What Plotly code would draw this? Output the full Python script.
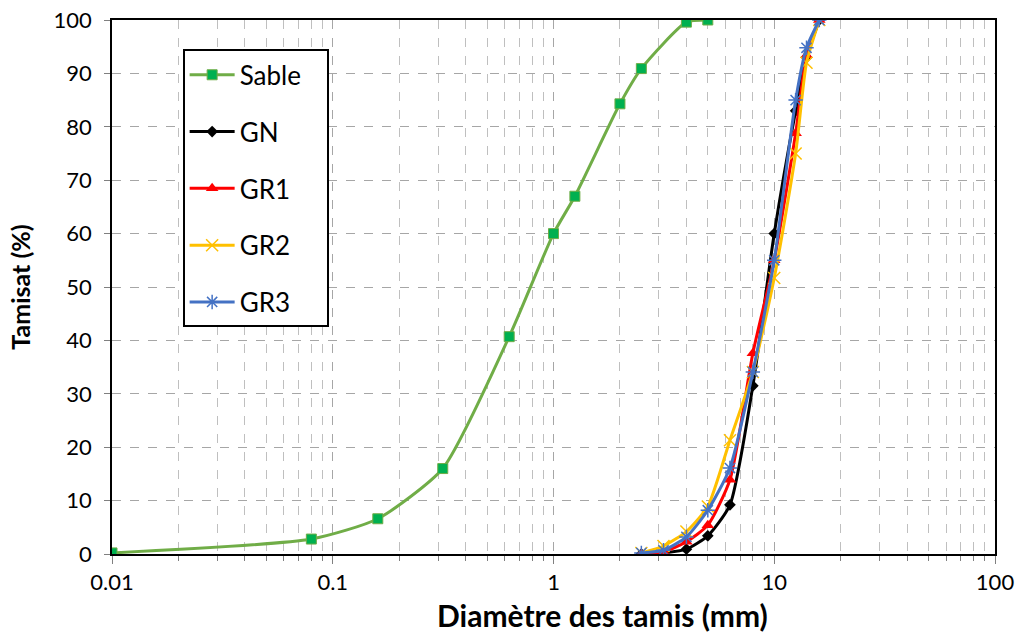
import plotly.graph_objects as go

sable_d = [0.01, 0.08, 0.16, 0.315, 0.63, 1.0, 1.25, 2.0, 2.5, 4.0, 5.0]
sable_p = [0.2, 2.8, 6.6, 16.0, 40.7, 60.0, 67.0, 84.3, 90.9, 99.6, 100.0]

grav_d = [2.5, 3.15, 4.0, 5.0, 6.3, 8.0, 10.0, 12.5, 14.0, 16.0]
gn_p = [0.0, 0.2, 0.9, 3.4, 9.2, 31.5, 60.0, 83.0, 93.0, 100.0]
gr1_p = [0.0, 0.4, 2.3, 5.4, 13.9, 37.6, 55.0, 78.8, 93.4, 100.0]
gr2_p = [0.2, 1.5, 4.2, 8.9, 21.3, 34.1, 51.7, 75.0, 92.0, 100.0]
gr3_p = [0.2, 0.7, 3.2, 8.2, 16.1, 34.1, 55.0, 85.0, 94.8, 100.0]

names = ["Sable", "GN", "GR1", "GR2", "GR3"]

fig = go.Figure()
specs = [
    (sable_d, sable_p, names[0], "#70AD47", dict(symbol="square", size=10, color="#00B050", line=dict(color="#70AD47", width=1))),
    (grav_d, gn_p, names[1], "#000000", dict(symbol="diamond", size=9, color="#000000")),
    (grav_d, gr1_p, names[2], "#FF0000", dict(symbol="triangle-up", size=11, color="#FF0000")),
    (grav_d, gr2_p, names[3], "#FFC000", dict(symbol="x-thin-open", size=12, color="#FFC000", line=dict(color="#FFC000", width=1.5))),
    (grav_d, gr3_p, names[4], "#4472C4", dict(symbol="asterisk-open", size=12, color="#4472C4", line=dict(color="#4472C4", width=1.5))),
]
for i, (x, y, n, c, m) in enumerate(specs):
    fig.add_trace(go.Scatter(x=x, y=y, name=n + "\u00a0\u00a0\u00a0", mode="lines+markers",
                             line=dict(color=c, width=3, shape="spline", smoothing=0.6),
                             marker=m, legendgroup=f"g{i}"))

fig.update_layout(
    width=1019, height=644,
    margin=dict(l=112, r=24, t=20, b=90),
    paper_bgcolor="white", plot_bgcolor="white",
    font=dict(family="Lato, Liberation Sans, sans-serif", color="#000000", size=22),
    showlegend=True,
    legend=dict(x=0.08, y=0.945, xanchor="left", yanchor="top",
                bgcolor="white", bordercolor="#000000", borderwidth=2,
                font=dict(size=26), tracegroupgap=20, itemwidth=45),
    annotations=[dict(text="<b>Diamètre des tamis (mm)</b>", xref="paper", yref="paper",
                      x=0.555, y=-0.115, xanchor="center", yanchor="middle",
                      showarrow=False, font=dict(size=30))],
)
fig.update_xaxes(
    type="log", range=[-2, 2], dtick=1, automargin=False,
    showline=True, linecolor="#000000", linewidth=1.5, mirror=True,
    showgrid=True, gridcolor="#A6A6A6", griddash="dash", gridwidth=1,
    ticks="outside", ticklen=8, tickcolor="#808080",
    minor=dict(dtick="D1", showgrid=True, gridcolor="#BFBFBF", griddash="dash",
               ticks="outside", ticklen=5, tickcolor="#808080"),
    zeroline=False,
)
fig.update_yaxes(
    range=[0, 100], dtick=10, automargin=False,
    showline=True, linecolor="#000000", linewidth=1.5, mirror=True,
    showgrid=True, gridcolor="#A6A6A6", griddash="dash", gridwidth=1,
    ticks="outside", ticklen=6, tickcolor="#808080", ticklabelstandoff=8,
    title=dict(text="<b>Tamisat (%)</b>", font=dict(size=25), standoff=16),
    zeroline=False,
)
fig.write_html("out.html")
